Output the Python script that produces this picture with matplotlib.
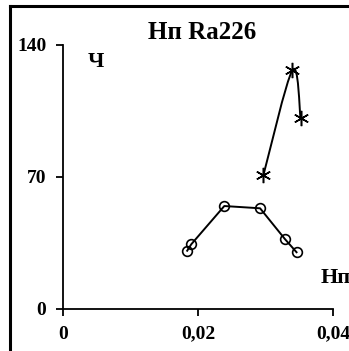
import numpy as np
import matplotlib.pyplot as plt
from matplotlib.path import Path
from matplotlib.patches import PathPatch
from matplotlib.lines import Line2D

plt.rcParams['font.family'] = 'Liberation Serif'
plt.rcParams['font.weight'] = 'bold'

# Ряд с кружками
x_circ = [0.0184, 0.0190, 0.0239, 0.0292, 0.0329, 0.0346]
y_circ = [30.9, 34.3, 54.6, 53.4, 37.0, 30.1]
# Ряд со звёздочками (сглаженная линия)
x_star = [0.0297, 0.0340, 0.0352]
y_star = [71.1, 126.7, 101.1]

x_ticks = [0, 0.02, 0.04]
x_labels = ['0', '0,02', '0,04']
y_ticks = [0, 70, 140]

fig = plt.figure(figsize=(3.49, 3.51), dpi=100)
ax = fig.add_axes([0.1805, 0.1197, 0.7736, 0.7521])

ax.plot(x_circ, y_circ, color='black', lw=1.4, marker='o', ms=7,
        mfc='none', mec='black', mew=1.2)

# сглаживание кривой Безье (Catmull-Rom)
pts = np.column_stack([x_star, y_star])
ext = np.vstack([pts[0], pts, pts[-1]])
verts = [tuple(pts[0])]
codes = [Path.MOVETO]
for i in range(1, len(ext) - 2):
    p0, p1, p2, p3 = ext[i - 1], ext[i], ext[i + 1], ext[i + 2]
    c1 = p1 + (p2 - p0) / 6
    c2 = p2 - (p3 - p1) / 6
    verts += [tuple(c1), tuple(c2), tuple(p2)]
    codes += [Path.CURVE4] * 3
ax.add_patch(PathPatch(Path(verts, codes), fc='none', ec='black', lw=1.4))
ax.plot(x_star, y_star, ls='none', marker=(6, 2, 0), ms=11, mec='black', mew=1.1)

ax.set_xlim(0, 0.04)
ax.set_ylim(0, 140)
ax.set_xticks(x_ticks)
ax.set_xticklabels(x_labels)
ax.set_yticks(y_ticks)
for s in ['top', 'right']:
    ax.spines[s].set_visible(False)
for s in ['left', 'bottom']:
    ax.spines[s].set_linewidth(1.3)
ax.tick_params(direction='out', length=5, width=1.3, labelsize=14, pad=7)
ax.tick_params(axis='x', pad=7)

fig.text(0.579, 0.906, 'Нп Ra226', ha='center', va='center', fontsize=18, fontweight='bold')
fig.text(0.275, 0.823, 'Ч', ha='center', va='center', fontsize=16, fontweight='bold')
fig.text(0.918, 0.208, 'Нп', ha='left', va='center', fontsize=16, fontweight='bold')

# рамка вокруг диаграммы
fig.add_artist(Line2D([0.028, 0.028], [0, 0.983], transform=fig.transFigure, color='black', lw=2.2))
fig.add_artist(Line2D([0.028, 1], [0.983, 0.983], transform=fig.transFigure, color='black', lw=2.2))

fig.savefig('out.png', dpi=100)
